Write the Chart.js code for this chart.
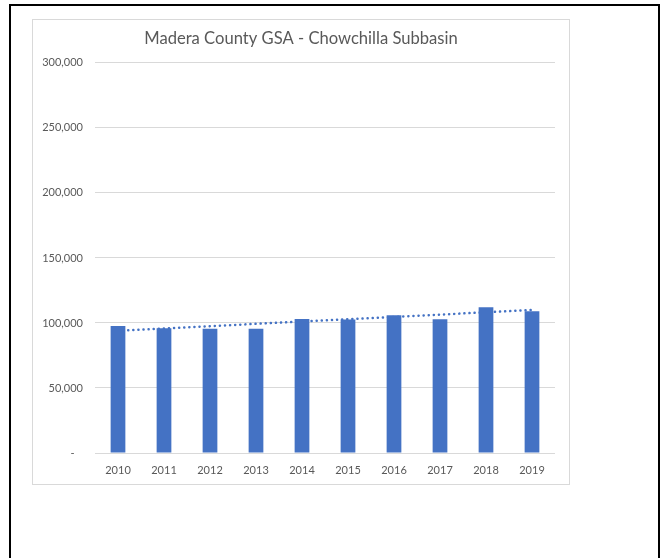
<!DOCTYPE html>
<html lang="en">
  <head>
    <meta charset="UTF-8" />
    <title>Madera County GSA - Chowchilla Subbasin</title>
    <script src="https://cdn.jsdelivr.net/npm/chart.js"></script>
    <style>
      html,
      body {
        margin: 0;
        padding: 0;
        background: #fff;
        width: 661px;
        height: 558px;
        overflow: hidden;
      }
      .moldura {
        position: absolute;
        left: 9px;
        top: 4px;
        width: 647px;
        height: 600px;
        border: 2px solid #000;
      }
      .caixa {
        position: absolute;
        left: 32px;
        top: 19px;
        width: 536px;
        height: 464px;
        border: 1px solid #d9d9d9;
      }
    </style>
  </head>

  <body>
    <div class="moldura"></div>
    <div class="caixa">
      <canvas id="myChart" width="536" height="464"></canvas>
    </div>
  </body>
</html>

<script>
  var anos = ["2010", "2011", "2012", "2013", "2014", "2015", "2016", "2017", "2018", "2019"];
  var valores = [97700, 95900, 95600, 95600, 103000, 102700, 105900, 102800, 112000, 109000];
  // linha de tendencia (pontas), o resto fica vazio
  var tendencia = [94000, null, null, null, null, null, null, null, null, 110000];
  var ticksY = [0, 50000, 100000, 150000, 200000, 250000, 300000];

  var corTexto = "#595959";
  var fonte = "Lato, 'Liberation Sans', sans-serif";

  Chart.defaults.font.family = fonte;
  Chart.defaults.color = corTexto;

  const ctx = document.getElementById("myChart");
  new Chart(ctx, {
    type: "bar",
    data: {
      labels: anos,
      datasets: [
        {
          type: "bar",
          label: "Madera County GSA",
          data: valores,
          backgroundColor: "#4472C4",
          barPercentage: 0.32,
          categoryPercentage: 1,
          order: 1,
        },
        {
          type: "line",
          label: "Tendência",
          data: tendencia,
          spanGaps: true,
          borderColor: "#4472C4",
          borderWidth: 2.5,
          borderDash: [0.1, 5],
          borderCapStyle: "round",
          pointRadius: 0,
          fill: false,
          order: 2,
        },
      ],
    },
    options: {
      responsive: false,
      animation: false,
      layout: {
        padding: 0,
      },
      plugins: {
        legend: { display: false },
        tooltip: { enabled: false },
        title: {
          display: true,
          text: "Madera County GSA - Chowchilla Subbasin",
          color: corTexto,
          font: { size: 16.6, weight: "normal" },
          padding: { top: 9, bottom: 14 },
        },
      },
      scales: {
        x: {
          afterFit: function (escala) {
            escala.height = 31;
          },
          grid: { display: false },
          border: { display: false },
          ticks: { font: { size: 11 }, padding: 3, maxRotation: 0 },
        },
        y: {
          min: 0,
          max: 300000,
          afterFit: function (escala) {
            escala.width = 62;
          },
          afterBuildTicks: function (escala) {
            escala.ticks = ticksY.map(function (v) {
              return { value: v };
            });
          },
          grid: { color: "#d9d9d9", lineWidth: 1, drawTicks: false },
          border: { display: false },
          ticks: {
            font: { size: 11 },
            padding: 12,
            callback: function (v) {
              if (v === 0) return "-   ";
              return v.toLocaleString("en-US");
            },
          },
        },
        // eixo vazio so para deixar a margem da direita
        margem: {
          position: "right",
          min: 0,
          max: 300000,
          afterFit: function (escala) {
            escala.width = 14;
          },
          grid: { display: false },
          border: { display: false },
          ticks: { display: false },
        },
      },
    },
  });
</script>
